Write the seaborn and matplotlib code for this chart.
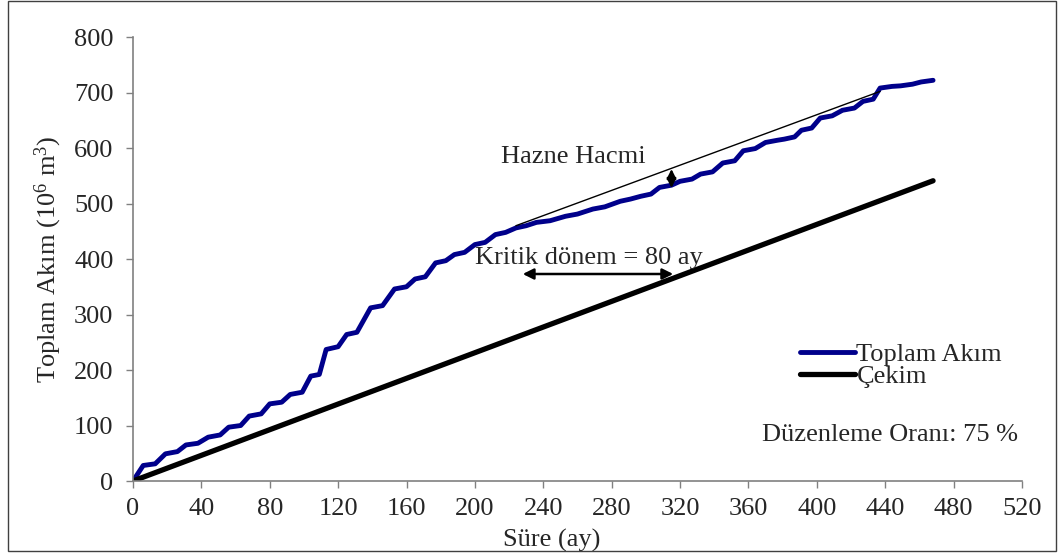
import matplotlib
matplotlib.use("Agg")
import matplotlib.pyplot as plt
import seaborn as sns
import pandas as pd
from matplotlib.patches import Rectangle

# Cumulative inflow (mass curve), months vs 10^6 m3
flow_months = [0, 6, 13, 19, 26, 31, 38, 44, 51, 56, 63, 68, 75, 80, 87, 92, 99,
               104, 109, 113, 120, 125, 131, 139, 146, 153, 160, 165, 171, 177, 183,
               188, 194, 200, 206, 212, 218, 224, 230, 236, 244, 253, 260, 269, 276,
               285, 291, 297, 303, 308, 315, 320, 327, 332, 339, 345, 352, 357, 364,
               370, 377, 381, 387, 391, 397, 402, 409, 415, 422, 427, 433, 437, 444,
               449, 456, 461, 468]
flow_values = [0, 28, 31, 49, 53, 65, 68, 79, 83, 97, 100, 117, 121, 139, 142, 156, 160,
               189, 192, 237, 242, 264, 268, 312, 316, 346, 350, 364, 368, 393, 397,
               408, 412, 426, 430, 444, 448, 456, 460, 466, 469, 477, 481, 490, 494,
               504, 508, 513, 517, 529, 533, 540, 544, 553, 557, 573, 577, 595, 599,
               610, 614, 616, 620, 632, 636, 654, 658, 668, 672, 684, 688, 708, 711,
               712, 715, 719, 722]

# Cumulative withdrawal (regulation ratio 75 %)
draft_months = [0, 468]
draft_values = [0, 541]

# Tangent line parallel to the withdrawal line
tangent_months = [224, 437]
tangent_values = [460, 702]

# Critical period and storage markers
critical_period = [228, 316]
critical_level = 373
storage_month = 315
storage_range = [562, 528]

x_ticks = list(range(0, 521, 40))
y_ticks = list(range(0, 801, 100))

FS = 19

sns.set_theme(style="white")
plt.rcParams["font.family"] = ["Liberation Serif", "DejaVu Serif"]
plt.rcParams["mathtext.default"] = "regular"

fig = plt.figure(figsize=(10.62, 5.59), dpi=100)
ax = fig.add_axes([0.1252, 0.1395, 0.8371, 0.7943])

flow_df = pd.DataFrame({"Süre": flow_months, "Akım": flow_values})
draft_df = pd.DataFrame({"Süre": draft_months, "Akım": draft_values})

sns.lineplot(data=flow_df, x="Süre", y="Akım", ax=ax, color="#00008B", lw=3.5,
             label="Toplam Akım", solid_joinstyle="round", solid_capstyle="round")
sns.lineplot(data=draft_df, x="Süre", y="Akım", ax=ax, color="black", lw=3.8,
             label="Çekim", solid_capstyle="round")
ax.plot(tangent_months, tangent_values, color="black", lw=1.0)

# Critical period arrow
ax.annotate("", xy=(critical_period[0], critical_level),
            xytext=(critical_period[1], critical_level),
            arrowprops=dict(arrowstyle="<|-|>", color="black", lw=1.8,
                            mutation_scale=16, shrinkA=0, shrinkB=0))
ax.text(200, 402, "Kritik dönem = 80 ay", fontsize=FS, va="center", ha="left")

# Storage volume arrow
ax.annotate("", xy=(storage_month, storage_range[0]),
            xytext=(storage_month, storage_range[1]),
            arrowprops=dict(arrowstyle="<|-|>", color="black", lw=1.5,
                            mutation_scale=14, shrinkA=0, shrinkB=0))
ax.text(215, 583, "Hazne Hacmi", fontsize=FS, va="center", ha="left")

ax.text(368, 83, "Düzenleme Oranı: 75 %", fontsize=FS, va="center", ha="left")

ax.set_xlim(0, 520)
ax.set_ylim(0, 800)
ax.set_xticks(x_ticks)
ax.set_yticks(y_ticks)
ax.tick_params(axis="both", which="major", labelsize=FS, length=5, width=1,
               color="#808080", direction="out", bottom=True, left=True)
ax.tick_params(axis="x", pad=7)
ax.tick_params(axis="y", pad=9)
for side in ["top", "right"]:
    ax.spines[side].set_visible(False)
for side in ["left", "bottom"]:
    ax.spines[side].set_color("#808080")
    ax.spines[side].set_linewidth(1.2)

ax.set_xlabel("Süre (ay)", fontsize=FS, va="center")
ax.xaxis.set_label_coords(0.471, -0.133)
ax.set_ylabel("Toplam Akım (10$^6$ m$^3$)", fontsize=FS, va="center")
ax.yaxis.set_label_coords(-0.0956, 0.5)

leg = ax.legend(loc="center left", bbox_to_anchor=(0.750, 0.261), frameon=False,
                fontsize=FS, handlelength=2.1, handletextpad=0.05,
                labelspacing=-0.05, borderaxespad=0, borderpad=0)

fig.patches.append(Rectangle((8 / 1062, 8 / 559), 1048 / 1062, 550 / 559,
                             transform=fig.transFigure, fill=False,
                             edgecolor="#404040", lw=1.0))

fig.savefig("out.png", dpi=100)
